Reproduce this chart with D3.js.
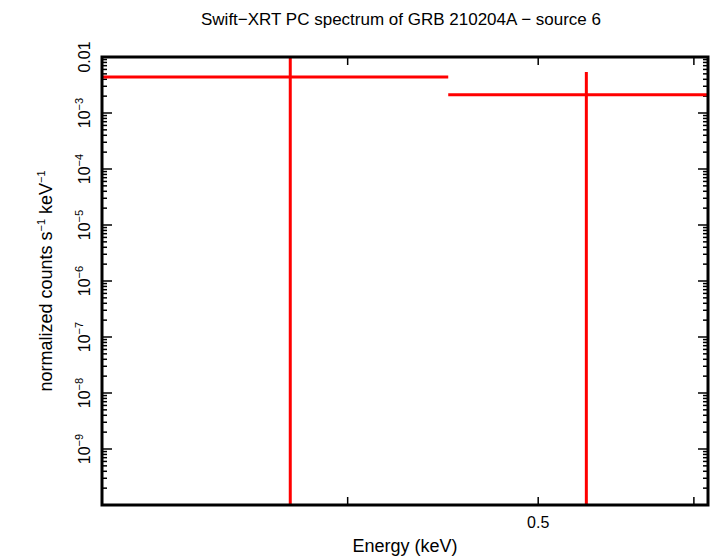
<!DOCTYPE html>
<html><head><meta charset="utf-8">
<script src="https://cdn.jsdelivr.net/npm/d3@7"></script>
<style>body{margin:0;background:#fff}text{font-family:"Liberation Sans",Arial,sans-serif}</style>
</head><body><div id="screen"></div>
<script>
// spectrum bins (keV) and normalized counts
var binLo = [0.30, 0.45];
var binHi = [0.45, 0.61];
var binMid = [0.374, 0.529];
var rate = [0.0044, 0.00212];
var errLo = [1e-11, 1e-11];
var errHi = [0.05, 0.0054];
var yTicks = [1e-9, 1e-8, 1e-7, 1e-6, 1e-5, 1e-4, 1e-3];
var xTicks = [0.4, 0.5, 0.6];

var width = 710, height = 556;
var m = {l: 102, r: 708, t: 57, b: 505};
var svg = d3.select("#screen").append("svg").attr("width", width).attr("height", height);

var x = d3.scaleLog().domain([0.3, 0.61]).range([m.l, m.r]);
var y = d3.scaleLog().domain([1e-10, 0.01]).range([m.b, m.t]);

var g = svg.append("g");
// minor y ticks
var minors = [];
for (var e = -10; e < -2; e++) for (var k = 2; k < 10; k++) minors.push(k * Math.pow(10, e));
[m.l, m.r].forEach(function(x0, side) {
    var dir = side ? -1 : 1;
    g.selectAll(null).data(minors).enter().append("line")
        .attr("x1", x0).attr("x2", x0 + dir * 5)
        .attr("y1", d => y(d)).attr("y2", d => y(d))
        .attr("stroke", "#000").attr("stroke-width", 1.5);
    g.selectAll(null).data(yTicks).enter().append("line")
        .attr("x1", x0).attr("x2", x0 + dir * 10)
        .attr("y1", d => y(d)).attr("y2", d => y(d))
        .attr("stroke", "#000").attr("stroke-width", 1.5);
});
[m.b, m.t].forEach(function(y0, side) {
    var dir = side ? 1 : -1;
    g.selectAll(null).data(xTicks).enter().append("line")
        .attr("x1", d => x(d)).attr("x2", d => x(d))
        .attr("y1", y0).attr("y2", y0 + dir * 8)
        .attr("stroke", "#000").attr("stroke-width", 1.5);
});

// y labels rotated
var lab = g.selectAll(null).data(yTicks).enter().append("text")
    .attr("transform", d => "translate(" + (m.l - 12) + "," + y(d) + ") rotate(-90)")
    .attr("text-anchor", "middle").attr("font-size", 16);
lab.append("tspan").text("10");
lab.append("tspan").attr("dy", -7).attr("font-size", 11).text(d => "\u2212" + Math.round(-Math.log10(d)));
g.append("text").attr("transform", "translate(" + (m.l - 12) + "," + y(0.01) + ") rotate(-90)")
    .attr("text-anchor", "middle").attr("font-size", 16).text("0.01");

g.append("text").attr("x", x(0.5)).attr("y", 528).attr("text-anchor", "middle").attr("font-size", 16).text("0.5");

// data
var red = "#ff0000";
var d = svg.append("g").attr("clip-path", "url(#c)");
svg.append("clipPath").attr("id", "c").append("rect").attr("x", m.l).attr("y", m.t).attr("width", m.r - m.l).attr("height", m.b - m.t);
rate.forEach(function(v, i) {
    d.append("line").attr("x1", x(binLo[i])).attr("x2", x(binHi[i])).attr("y1", y(v)).attr("y2", y(v))
        .attr("stroke", red).attr("stroke-width", 3);
    d.append("line").attr("x1", x(binMid[i])).attr("x2", x(binMid[i])).attr("y1", y(errLo[i])).attr("y2", y(errHi[i]))
        .attr("stroke", red).attr("stroke-width", 3);
});

svg.append("rect").attr("x", m.l).attr("y", m.t).attr("width", m.r - m.l).attr("height", m.b - m.t)
    .attr("fill", "none").attr("stroke", "#000").attr("stroke-width", 3);

svg.append("text").attr("x", 401).attr("y", 25).attr("text-anchor", "middle").attr("font-size", 17)
    .text("Swift\u2212XRT PC spectrum of GRB 210204A \u2212 source 6");
svg.append("text").attr("x", 405).attr("y", 552).attr("text-anchor", "middle").attr("font-size", 18).text("Energy (keV)");
var yl = svg.append("text").attr("transform", "translate(52,281) rotate(-90)").attr("text-anchor", "middle").attr("font-size", 18);
yl.append("tspan").text("normalized counts s");
yl.append("tspan").attr("dy", -7).attr("font-size", 11).text("\u22121");
yl.append("tspan").attr("dy", 7).text(" keV");
yl.append("tspan").attr("dy", -7).attr("font-size", 11).text("\u22121");
</script></body></html>
